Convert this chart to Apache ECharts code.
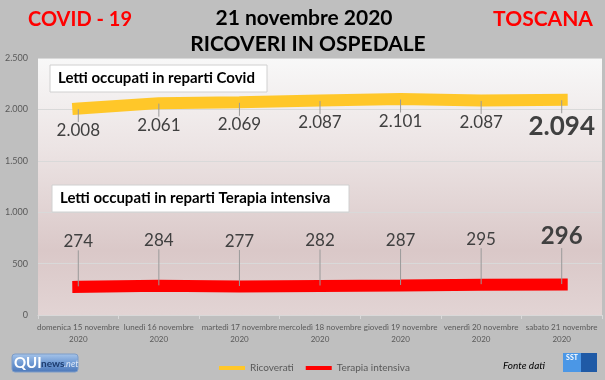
<!DOCTYPE html>
<html>
<head>
<meta charset="utf-8">
<script src="https://cdn.jsdelivr.net/npm/echarts@6/dist/echarts.min.js"></script>
<style>
html,body{margin:0;padding:0;background:#bfbfbf;}
#chart{width:605px;height:380px;}
</style>
</head>
<body>
<div id="chart"></div>
<script>
const categories = [
  'domenica 15 novembre\n2020',
  'lunedì 16 novembre\n2020',
  'martedì 17 novembre\n2020',
  'mercoledì 18 novembre\n2020',
  'giovedì 19 novembre\n2020',
  'venerdì 20 novembre\n2020',
  'sabato 21 novembre\n2020'
];
const ricoverati = [2008, 2061, 2069, 2087, 2101, 2087, 2094];
const terapiaIntensiva = [274, 284, 277, 282, 287, 295, 296];
const seriesNames = ['Ricoverati', 'Terapia intensiva'];
const seriesColors = ['#ffc729', '#ff0000'];
const yMin = 0, yMax = 2500, yStep = 500;

const FONT = 'Lato, "Liberation Sans", sans-serif';
function fmt(v) {
  return String(v).replace(/\B(?=(\d{3})+(?!\d))/g, '.');
}
function buildData(arr, bigSize) {
  return arr.map((v, i) => {
    if (i === arr.length - 1) {
      return { value: v, label: { fontSize: bigSize, fontWeight: 'bold', color: '#404040' } };
    }
    return v;
  });
}

const chart = echarts.init(document.getElementById('chart'));
const option = {
  backgroundColor: '#bfbfbf',
  animation: false,
  textStyle: { fontFamily: FONT },
  title: [
    { text: 'COVID - 19', left: 75, top: 5, textAlign: 'center',
      textStyle: { color: '#ff0000', fontSize: 20, fontWeight: 'bold', fontFamily: FONT } },
    { text: 'TOSCANA', left: 538, top: 4, textAlign: 'center',
      textStyle: { color: '#ff0000', fontSize: 21, fontWeight: 'bold', fontFamily: FONT } },
    { text: '21 novembre 2020', left: 299, top: 3, textAlign: 'center',
      textStyle: { color: '#000', fontSize: 21, fontWeight: 'bold', fontFamily: FONT } },
    { text: 'RICOVERI IN OSPEDALE', left: 303, top: 29, textAlign: 'center',
      textStyle: { color: '#000', fontSize: 21, fontWeight: 'bold', fontFamily: FONT } }
  ],
  legend: {
    data: seriesNames.map((n, i) => ({ name: n, itemStyle: { color: seriesColors[i] } })),
    left: 214,
    top: 358,
    icon: 'rect',
    itemWidth: 26,
    itemHeight: 4,
    itemGap: 12,
    textStyle: { color: '#595959', fontSize: 10, fontFamily: FONT }
  },
  grid: {
    left: 38, right: 3, top: 58, bottom: 65,
    show: true,
    borderWidth: 0,
    backgroundColor: new echarts.graphic.LinearGradient(0, 0, 0, 1, [
      { offset: 0, color: '#f8f8f8' },
      { offset: 0.35, color: '#ece4e4' },
      { offset: 0.75, color: '#dac8c8' },
      { offset: 1, color: '#e2d4d4' }
    ])
  },
  xAxis: {
    type: 'category',
    data: categories,
    boundaryGap: true,
    axisLine: { lineStyle: { color: '#d9d9d9' } },
    axisTick: { show: true, interval: 0, length: 4, lineStyle: { color: '#d9d9d9' } },
    axisLabel: { color: '#595959', fontSize: 8, lineHeight: 12, margin: 6, interval: 0, fontFamily: FONT }
  },
  yAxis: {
    type: 'value',
    min: yMin, max: yMax, interval: yStep,
    axisLine: { show: false },
    axisTick: { show: false },
    splitLine: { lineStyle: { color: '#d9d9d9', width: 1 } },
    axisLabel: { color: '#595959', fontSize: 9, margin: 10, formatter: fmt, fontFamily: FONT }
  },
  series: [
    {
      name: seriesNames[0],
      type: 'line',
      data: buildData(ricoverati, 26),
      color: seriesColors[0],
      lineStyle: { width: 12, color: seriesColors[0], cap: 'square' },
      symbol: 'circle', symbolSize: 1,
      itemStyle: { color: 'rgba(0,0,0,0)' },
      silent: true,
      label: {
        show: true, position: 'bottom', distance: 0,
        color: '#404040', fontSize: 17, fontFamily: FONT,
        formatter: p => fmt(p.value)
      },
      labelLayout: { dy: 13 },
      labelLine: { show: true, lineStyle: { color: '#9a9a9a', width: 1 } }
    },
    {
      name: seriesNames[1],
      type: 'line',
      data: buildData(terapiaIntensiva, 24),
      color: seriesColors[1],
      lineStyle: { width: 12, color: seriesColors[1], cap: 'square' },
      symbol: 'circle', symbolSize: 1,
      itemStyle: { color: 'rgba(0,0,0,0)' },
      silent: true,
      label: {
        show: true, position: 'top', distance: 0,
        color: '#404040', fontSize: 17, fontFamily: FONT,
        formatter: p => fmt(p.value)
      },
      labelLayout: { dy: -36 },
      labelLine: { show: true, lineStyle: { color: '#9a9a9a', width: 1 } }
    }
  ],
  graphic: [
    { type: 'rect', shape: { x: 50, y: 65, width: 217, height: 27 },
      style: { fill: '#ffffff', stroke: '#d0d0d0', lineWidth: 1 }, z: 10 },
    { type: 'text', x: 58, y: 78.5,
      style: { text: 'Letti occupati in reparti Covid', font: 'bold 15px ' + FONT, fill: '#000', textVerticalAlign: 'middle' }, z: 11 },
    { type: 'rect', shape: { x: 52, y: 185, width: 297, height: 27 },
      style: { fill: '#ffffff', stroke: '#d0d0d0', lineWidth: 1 }, z: 10 },
    { type: 'text', x: 60, y: 198.5,
      style: { text: 'Letti occupati in reparti Terapia intensiva', font: 'bold 15px ' + FONT, fill: '#000', textVerticalAlign: 'middle' }, z: 11 },
    { type: 'rect', shape: { x: 12, y: 354, width: 66, height: 18, r: 3 },
      style: { fill: new echarts.graphic.LinearGradient(0, 0, 0, 1, [
        { offset: 0, color: '#a9c6ea' }, { offset: 0.5, color: '#6f9ad4' }, { offset: 1, color: '#4a76b8' }]),
        stroke: '#7d9cc8', lineWidth: 1 }, z: 10 },
    { type: 'text', x: 14, y: 363,
      style: { text: 'QUI', font: 'bold 15px ' + FONT, fill: '#ffffff', textVerticalAlign: 'middle' }, z: 11 },
    { type: 'text', x: 41, y: 364,
      style: { text: 'news', font: 'bold 10px ' + FONT, fill: '#1d3c6e', textVerticalAlign: 'middle' }, z: 11 },
    { type: 'text', x: 64, y: 364,
      style: { text: '.net', font: 'italic 9px ' + FONT, fill: '#dfe9f7', textVerticalAlign: 'middle' }, z: 11 },
    { type: 'text', x: 524, y: 366,
      style: { text: 'Fonte dati', font: 'italic 10px ' + FONT, fill: '#000', textAlign: 'center', textVerticalAlign: 'middle' }, z: 11 },
    { type: 'rect', shape: { x: 563, y: 353, width: 18, height: 19 },
      style: { fill: '#4b97e6' }, z: 10 },
    { type: 'rect', shape: { x: 581, y: 353, width: 16, height: 19 },
      style: { fill: '#1f5aa6' }, z: 10 },
    { type: 'text', x: 572, y: 358,
      style: { text: 'SST', font: 'bold 7px ' + FONT, fill: '#fff', textAlign: 'center', textVerticalAlign: 'middle' }, z: 11 }
  ]
};
chart.setOption(option);
</script>
</body>
</html>
